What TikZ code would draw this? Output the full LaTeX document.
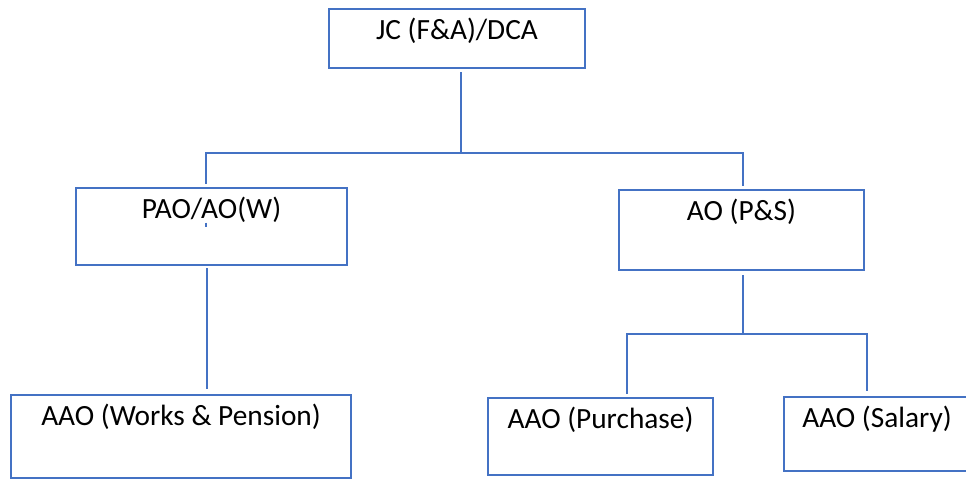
\documentclass[tikz,border=0pt]{standalone}
\usepackage{fontspec}
\setmainfont{Carlito}
\definecolor{boxblue}{RGB}{68,114,196}
\newcommand{\px}{0.75pt}
\tikzset{>=latex}
\tikzset{
  office/.style={draw=boxblue,line width=1.5pt,inner sep=0pt},
  wire/.style={draw=boxblue,line width=1.5pt},
  caption/.style={anchor=north,inner sep=0pt,yshift=-7.5pt,font=\fontsize{22}{26}\selectfont}
}

\begin{document}
\begin{tikzpicture}[x=0.75pt,y=-0.75pt]
  \useasboundingbox (0,0) rectangle (966,479);
  % boxes
  \node[office,minimum width=256*\px,minimum height=59*\px,label={[caption]north:JC (F\&A)/DCA}] (jc) at (457,38.5) {};
  \node[office,minimum width=271*\px,minimum height=77*\px,label={[caption]north:PAO/AO(W)}] (pao) at (211.5,226.5) {};
  \node[office,minimum width=245*\px,minimum height=80*\px,label={[caption]north:AO (P\&S)}] (ao) at (741.5,230) {};
  \node[office,minimum width=340*\px,minimum height=83*\px,label={[caption]north:AAO (Works \& Pension)}] (works) at (181,436.5) {};
  \node[office,minimum width=225*\px,minimum height=77*\px,label={[caption]north:AAO (Purchase)}] (purch) at (600.5,436.5) {};
  \node[office,minimum width=186*\px,minimum height=74*\px,label={[caption]north:AAO (Salary)}] (sal) at (877,434) {};
  % connectors
  \coordinate (busA) at (461,153);
  \coordinate (busB) at (743,334);
  \draw[wire] (jc.south -| busA) ++(0,3) -- (busA);
  \draw[wire] ([shift={(-5.5,-3)}]pao.north) |- (busA) -| ([shift={(1.5,-3)}]ao.north);
  \draw[wire] ([shift={(-4.5,2)}]pao.south) -- ([shift={(-4.5,-5)}]pao.south |- works.north);
  \draw[wire] ([shift={(1.5,4)}]ao.south) -- (busB);
  \draw[wire] ([shift={(26.5,-3)}]purch.north) |- (busB) -| ([shift={(-10,-5)}]sal.north);
  % stray tick inside the PAO box
  \draw[boxblue,line width=1pt] ([shift={(-5.5,-4)}]pao.center) -- ++(0,4);
\end{tikzpicture}
\end{document}
